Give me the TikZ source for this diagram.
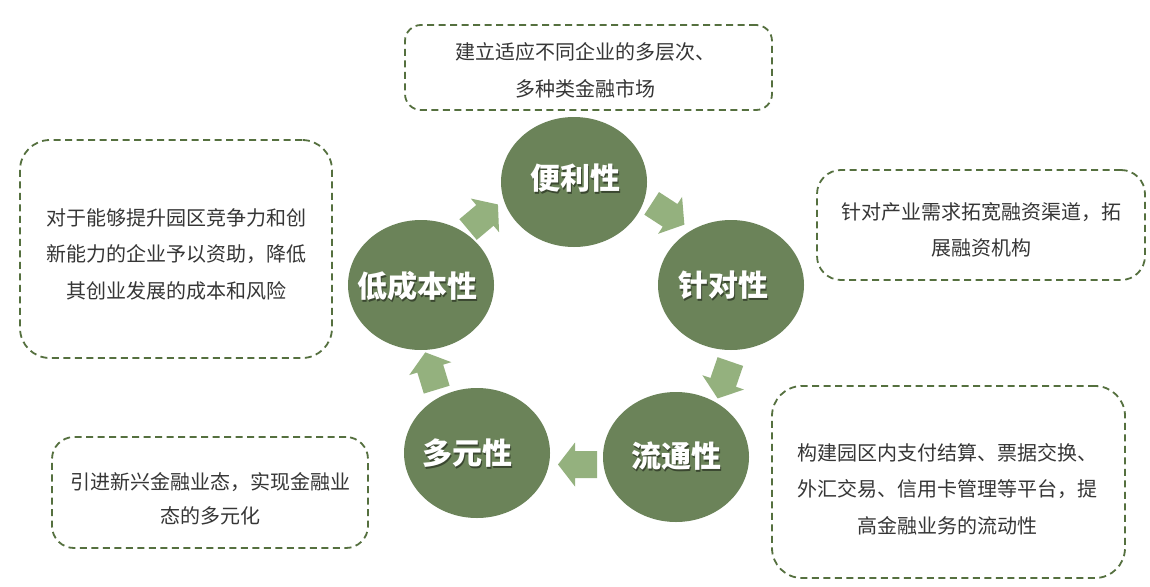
\documentclass[tikz,border=0pt]{standalone}
\usepackage{fontspec}
\setmainfont{Noto Sans CJK SC}
\usetikzlibrary{shapes.geometric}
\definecolor{circfill}{HTML}{6B8359}
\definecolor{arrowfill}{HTML}{94B17E}
\definecolor{dashgreen}{HTML}{55703F}
\definecolor{textgray}{HTML}{363636}
\tikzset{
  circ/.style={ellipse, fill=circfill, minimum width=146pt, minimum height=130pt, inner sep=0pt},
  ctext/.style={text=white, font=\fontsize{30}{32}\selectfont\bfseries, inner sep=0pt},
  cshadow/.style={text=black, opacity=0.45, font=\fontsize{30}{32}\selectfont\bfseries, inner sep=0pt},
  note/.style={draw=dashgreen, line width=1.8pt, dash pattern=on 7pt off 4.5pt,
    fill=white, inner sep=0pt},
  notetext/.style={text=textgray, align=center, inner sep=0pt,
    font=\fontsize{20}{36.5}\selectfont},
  barrow/.pic={\fill[arrowfill] (-19.5,-13.5)--(2.5,-13.5)--(2.5,-22)--(19.5,0)--(2.5,22)--(2.5,13.5)--(-19.5,13.5)--cycle;}
}
\begin{document}
\begin{tikzpicture}[x=1pt,y=-1pt]
\useasboundingbox[fill=white] (0,0) rectangle (1150,586);

% notes
\node[note, rounded corners=16pt, minimum width=367pt, minimum height=85pt] (n1) at (588.5,67.5) {};
\node[notetext] (t1) at ([shift={(-3,3)}]n1) {建立适应不同企业的多层次、\\多种类金融市场};
\node[note, rounded corners=30pt, minimum width=312pt, minimum height=218pt] (n2) at (176,249) {};
\node[notetext] (t2) at ([shift={(0,5)}]n2) {对于能够提升园区竞争力和创\\新能力的企业予以资助，降低\\其创业发展的成本和风险};
\node[note, rounded corners=24pt, minimum width=328pt, minimum height=110pt] (n3) at (981,225) {};
\node[notetext] (t3) at ([shift={(0,5)}]n3) {针对产业需求拓宽融资渠道，拓\\展融资机构};
\node[note, rounded corners=30pt, minimum width=353pt, minimum height=192pt] (n4) at (948.5,482) {};
\node[notetext] (t4) at ([shift={(-1,7)}]n4) {构建园区内支付结算、票据交换、\\外汇交易、信用卡管理等平台，提\\高金融业务的流动性};
\node[note, rounded corners=22pt, minimum width=316pt, minimum height=111pt] (n5) at (210,492.5) {};
\node[notetext, font=\fontsize{20}{34}\selectfont] (t5) at ([shift={(0,6)}]n5) {引进新兴金融业态，实现金融业\\态的多元化};

% circles
\node[circ] (c1) at (574,182) {};
\node[circ] (c2) at (731,285) {};
\node[circ] (c3) at (676,457) {};
\node[circ] (c4) at (477,453) {};
\node[circ] (c5) at (421,285) {};

\foreach \c/\t/\dx/\dy in {c1/便利性/1/-4, c2/针对性/-8/0, c3/流通性/0/-1, c4/多元性/-10/0, c5/低成本性/-4/1}{
  \node[cshadow] at ([shift={(\dx+1.8,\dy+1.8)}]\c) {\t};
  \node[ctext] at ([shift={(\dx,\dy)}]\c) {\t};
}

% arrows
\pic (a1) [rotate=-33] at (668,214) {barrow};
\pic (a2) [rotate=-109] at (724,380) {barrow};
\pic (a3) [rotate=180] at (577.5,464.5) {barrow};
\pic (a4) [rotate=107] at (431,371) {barrow};
\pic (a5) [rotate=40] at (483,217) {barrow};
\end{tikzpicture}
\end{document}
